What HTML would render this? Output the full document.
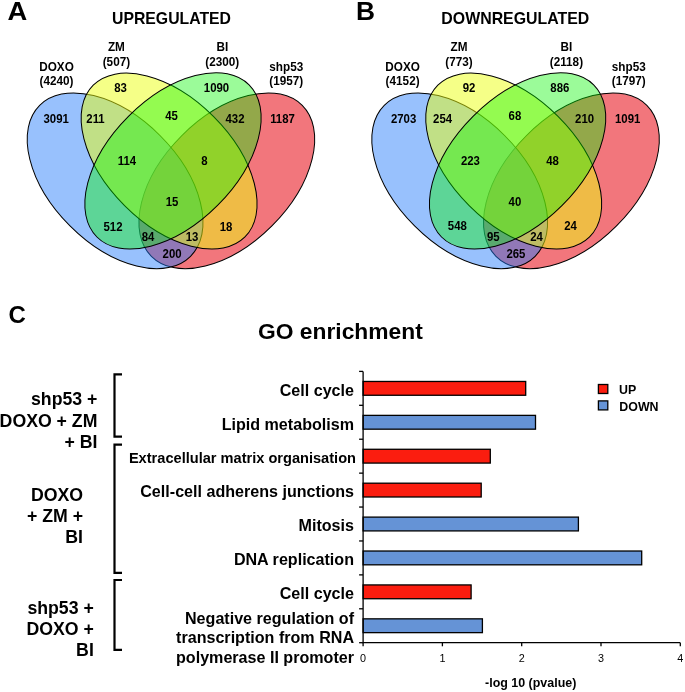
<!DOCTYPE html>
<html><head><meta charset="utf-8"><title>Figure</title>
<style>
html,body{margin:0;padding:0;background:#fff;}
svg{display:block;font-family:"Liberation Sans", sans-serif;fill:#000;}
</style></head>
<body>
<svg width="685" height="692" viewBox="0 0 685 692">
<rect width="685" height="692" fill="#fff"/>
<defs><filter id="idf" x="0" y="0" width="100%" height="100%" filterUnits="userSpaceOnUse" color-interpolation-filters="sRGB"><feOffset dx="0" dy="0"/></filter></defs>
<g filter="url(#idf)">
<ellipse cx="226.80" cy="180.85" rx="106.7" ry="63.8" transform="rotate(-45 226.80 180.85)" fill="#f2767c" fill-opacity="1.0" stroke="#000" stroke-width="1.0"/>
<ellipse cx="115.10" cy="180.85" rx="106.7" ry="63.8" transform="rotate(45 115.10 180.85)" fill="#247bfb" fill-opacity="0.47" stroke="#000" stroke-width="1.0"/>
<ellipse cx="169.10" cy="161.10" rx="107.3" ry="63.0" transform="rotate(45 169.10 161.10)" fill="#ebff0f" fill-opacity="0.5" stroke="#000" stroke-width="1.0"/>
<ellipse cx="173.00" cy="160.90" rx="107.6" ry="63.0" transform="rotate(-45 173.00 160.90)" fill="#05f500" fill-opacity="0.4" stroke="#000" stroke-width="1.0"/>
<ellipse cx="571.40" cy="180.85" rx="106.7" ry="63.8" transform="rotate(-45 571.40 180.85)" fill="#f2767c" fill-opacity="1.0" stroke="#000" stroke-width="1.0"/>
<ellipse cx="459.70" cy="180.85" rx="106.7" ry="63.8" transform="rotate(45 459.70 180.85)" fill="#247bfb" fill-opacity="0.47" stroke="#000" stroke-width="1.0"/>
<ellipse cx="513.70" cy="161.10" rx="107.3" ry="63.0" transform="rotate(45 513.70 161.10)" fill="#ebff0f" fill-opacity="0.5" stroke="#000" stroke-width="1.0"/>
<ellipse cx="517.60" cy="160.90" rx="107.6" ry="63.0" transform="rotate(-45 517.60 160.90)" fill="#05f500" fill-opacity="0.4" stroke="#000" stroke-width="1.0"/>
<text transform="translate(56.20 123.00) scale(0.92 1.0)" font-size="12.4" text-anchor="middle" font-weight="bold" >3091</text>
<text transform="translate(95.50 123.00) scale(0.92 1.0)" font-size="12.4" text-anchor="middle" font-weight="bold" >211</text>
<text transform="translate(120.50 91.90) scale(0.92 1.0)" font-size="12.4" text-anchor="middle" font-weight="bold" >83</text>
<text transform="translate(216.50 91.90) scale(0.92 1.0)" font-size="12.4" text-anchor="middle" font-weight="bold" >1090</text>
<text transform="translate(171.50 119.50) scale(0.92 1.0)" font-size="12.4" text-anchor="middle" font-weight="bold" >45</text>
<text transform="translate(235.00 123.00) scale(0.92 1.0)" font-size="12.4" text-anchor="middle" font-weight="bold" >432</text>
<text transform="translate(282.50 123.00) scale(0.92 1.0)" font-size="12.4" text-anchor="middle" font-weight="bold" >1187</text>
<text transform="translate(127.00 165.00) scale(0.92 1.0)" font-size="12.4" text-anchor="middle" font-weight="bold" >114</text>
<text transform="translate(204.50 165.00) scale(0.92 1.0)" font-size="12.4" text-anchor="middle" font-weight="bold" >8</text>
<text transform="translate(172.10 205.50) scale(0.92 1.0)" font-size="12.4" text-anchor="middle" font-weight="bold" >15</text>
<text transform="translate(113.00 230.50) scale(0.92 1.0)" font-size="12.4" text-anchor="middle" font-weight="bold" >512</text>
<text transform="translate(226.00 230.50) scale(0.92 1.0)" font-size="12.4" text-anchor="middle" font-weight="bold" >18</text>
<text transform="translate(148.00 241.00) scale(0.92 1.0)" font-size="12.4" text-anchor="middle" font-weight="bold" >84</text>
<text transform="translate(192.00 241.00) scale(0.92 1.0)" font-size="12.4" text-anchor="middle" font-weight="bold" >13</text>
<text transform="translate(172.10 257.80) scale(0.92 1.0)" font-size="12.4" text-anchor="middle" font-weight="bold" >200</text>
<text transform="translate(403.60 123.00) scale(0.92 1.0)" font-size="12.4" text-anchor="middle" font-weight="bold" >2703</text>
<text transform="translate(442.60 123.00) scale(0.92 1.0)" font-size="12.4" text-anchor="middle" font-weight="bold" >254</text>
<text transform="translate(469.00 91.70) scale(0.92 1.0)" font-size="12.4" text-anchor="middle" font-weight="bold" >92</text>
<text transform="translate(559.80 91.70) scale(0.92 1.0)" font-size="12.4" text-anchor="middle" font-weight="bold" >886</text>
<text transform="translate(514.90 119.50) scale(0.92 1.0)" font-size="12.4" text-anchor="middle" font-weight="bold" >68</text>
<text transform="translate(584.60 123.00) scale(0.92 1.0)" font-size="12.4" text-anchor="middle" font-weight="bold" >210</text>
<text transform="translate(627.70 123.00) scale(0.92 1.0)" font-size="12.4" text-anchor="middle" font-weight="bold" >1091</text>
<text transform="translate(470.40 165.00) scale(0.92 1.0)" font-size="12.4" text-anchor="middle" font-weight="bold" >223</text>
<text transform="translate(552.60 165.00) scale(0.92 1.0)" font-size="12.4" text-anchor="middle" font-weight="bold" >48</text>
<text transform="translate(514.90 205.50) scale(0.92 1.0)" font-size="12.4" text-anchor="middle" font-weight="bold" >40</text>
<text transform="translate(457.30 229.80) scale(0.92 1.0)" font-size="12.4" text-anchor="middle" font-weight="bold" >548</text>
<text transform="translate(570.60 229.80) scale(0.92 1.0)" font-size="12.4" text-anchor="middle" font-weight="bold" >24</text>
<text transform="translate(493.30 241.20) scale(0.92 1.0)" font-size="12.4" text-anchor="middle" font-weight="bold" >95</text>
<text transform="translate(536.60 241.20) scale(0.92 1.0)" font-size="12.4" text-anchor="middle" font-weight="bold" >24</text>
<text transform="translate(515.90 257.80) scale(0.92 1.0)" font-size="12.4" text-anchor="middle" font-weight="bold" >265</text>
<text transform="translate(56.50 71.10) scale(0.94 1.0)" font-size="12.5" text-anchor="middle" font-weight="bold" >DOXO</text>
<text transform="translate(56.50 85.40) scale(0.94 1.0)" font-size="12.5" text-anchor="middle" font-weight="bold" >(4240)</text>
<text transform="translate(116.40 51.10) scale(0.94 1.0)" font-size="12.5" text-anchor="middle" font-weight="bold" >ZM</text>
<text transform="translate(116.40 65.60) scale(0.94 1.0)" font-size="12.5" text-anchor="middle" font-weight="bold" >(507)</text>
<text transform="translate(222.30 51.10) scale(0.94 1.0)" font-size="12.5" text-anchor="middle" font-weight="bold" >BI</text>
<text transform="translate(222.30 65.60) scale(0.94 1.0)" font-size="12.5" text-anchor="middle" font-weight="bold" >(2300)</text>
<text transform="translate(286.30 70.70) scale(0.94 1.0)" font-size="12.5" text-anchor="middle" font-weight="bold" >shp53</text>
<text transform="translate(286.30 84.90) scale(0.94 1.0)" font-size="12.5" text-anchor="middle" font-weight="bold" >(1957)</text>
<text transform="translate(402.60 71.10) scale(0.94 1.0)" font-size="12.5" text-anchor="middle" font-weight="bold" >DOXO</text>
<text transform="translate(402.60 85.40) scale(0.94 1.0)" font-size="12.5" text-anchor="middle" font-weight="bold" >(4152)</text>
<text transform="translate(459.00 51.10) scale(0.94 1.0)" font-size="12.5" text-anchor="middle" font-weight="bold" >ZM</text>
<text transform="translate(459.00 65.60) scale(0.94 1.0)" font-size="12.5" text-anchor="middle" font-weight="bold" >(773)</text>
<text transform="translate(566.40 51.10) scale(0.94 1.0)" font-size="12.5" text-anchor="middle" font-weight="bold" >BI</text>
<text transform="translate(566.40 65.60) scale(0.94 1.0)" font-size="12.5" text-anchor="middle" font-weight="bold" >(2118)</text>
<text transform="translate(628.80 70.70) scale(0.94 1.0)" font-size="12.5" text-anchor="middle" font-weight="bold" >shp53</text>
<text transform="translate(628.80 84.90) scale(0.94 1.0)" font-size="12.5" text-anchor="middle" font-weight="bold" >(1797)</text>
<text transform="translate(7.40 19.60) scale(1.08 1.0)" font-size="25.3" text-anchor="start" font-weight="bold" >A</text>
<text transform="translate(356.00 19.60) scale(1.04 1.0)" font-size="25.3" text-anchor="start" font-weight="bold" >B</text>
<text x="8.50" y="323.20" font-size="24" text-anchor="start" font-weight="bold" >C</text>
<text transform="translate(171.50 24.10) scale(0.935 1.0)" font-size="16.9" text-anchor="middle" font-weight="bold" >UPREGULATED</text>
<text transform="translate(515.30 24.10) scale(0.94 1.0)" font-size="16.9" text-anchor="middle" font-weight="bold" >DOWNREGULATED</text>
<text x="340.40" y="339.20" font-size="22.8" text-anchor="middle" font-weight="bold" >GO enrichment</text>
<rect x="363.10" y="381.46" width="162.60" height="13.8" fill="#fb1d0f" stroke="#000" stroke-width="1.3"/>
<rect x="363.10" y="415.37" width="172.40" height="13.8" fill="#6593d6" stroke="#000" stroke-width="1.3"/>
<rect x="363.10" y="449.28" width="127.20" height="13.8" fill="#fb1d0f" stroke="#000" stroke-width="1.3"/>
<rect x="363.10" y="483.19" width="118.10" height="13.8" fill="#fb1d0f" stroke="#000" stroke-width="1.3"/>
<rect x="363.10" y="517.11" width="215.30" height="13.8" fill="#6593d6" stroke="#000" stroke-width="1.3"/>
<rect x="363.10" y="551.02" width="278.60" height="13.8" fill="#6593d6" stroke="#000" stroke-width="1.3"/>
<rect x="363.10" y="584.93" width="108.00" height="13.8" fill="#fb1d0f" stroke="#000" stroke-width="1.3"/>
<rect x="363.10" y="618.84" width="119.30" height="13.8" fill="#6593d6" stroke="#000" stroke-width="1.3"/>
<path d="M363.1 371.4 V642.7 H680.3" fill="none" stroke="#000" stroke-width="1.3"/>
<path d="M359.1 371.40 H363.1" stroke="#000" stroke-width="1.3"/>
<path d="M359.1 405.31 H363.1" stroke="#000" stroke-width="1.3"/>
<path d="M359.1 439.23 H363.1" stroke="#000" stroke-width="1.3"/>
<path d="M359.1 473.14 H363.1" stroke="#000" stroke-width="1.3"/>
<path d="M359.1 507.05 H363.1" stroke="#000" stroke-width="1.3"/>
<path d="M359.1 540.96 H363.1" stroke="#000" stroke-width="1.3"/>
<path d="M359.1 574.88 H363.1" stroke="#000" stroke-width="1.3"/>
<path d="M359.1 608.79 H363.1" stroke="#000" stroke-width="1.3"/>
<path d="M359.1 642.70 H363.1" stroke="#000" stroke-width="1.3"/>
<path d="M363.10 642.7 V646.3000000000001" stroke="#000" stroke-width="1.3"/>
<text x="363.10" y="662.00" font-size="10.8" text-anchor="middle" font-weight="normal" >0</text>
<path d="M442.40 642.7 V646.3000000000001" stroke="#000" stroke-width="1.3"/>
<text x="442.40" y="662.00" font-size="10.8" text-anchor="middle" font-weight="normal" >1</text>
<path d="M521.70 642.7 V646.3000000000001" stroke="#000" stroke-width="1.3"/>
<text x="521.70" y="662.00" font-size="10.8" text-anchor="middle" font-weight="normal" >2</text>
<path d="M601.00 642.7 V646.3000000000001" stroke="#000" stroke-width="1.3"/>
<text x="601.00" y="662.00" font-size="10.8" text-anchor="middle" font-weight="normal" >3</text>
<path d="M680.30 642.7 V646.3000000000001" stroke="#000" stroke-width="1.3"/>
<text x="680.30" y="662.00" font-size="10.8" text-anchor="middle" font-weight="normal" >4</text>
<text x="530.70" y="687.10" font-size="12.45" text-anchor="middle" font-weight="bold" >-log 10 (pvalue)</text>
<rect x="598.4" y="384.5" width="9.4" height="9.0" fill="#fb1d0f" stroke="#000" stroke-width="1.3"/>
<rect x="598.4" y="400.9" width="9.4" height="9.0" fill="#6593d6" stroke="#000" stroke-width="1.3"/>
<text x="619.00" y="393.90" font-size="12.4" text-anchor="start" font-weight="bold" >UP</text>
<text x="619.30" y="411.00" font-size="12.4" text-anchor="start" font-weight="bold" >DOWN</text>
<text x="354.00" y="395.50" font-size="16.1" text-anchor="end" font-weight="bold" >Cell cycle</text>
<text x="354.00" y="429.70" font-size="16.1" text-anchor="end" font-weight="bold" >Lipid metabolism</text>
<text x="356.00" y="463.30" font-size="14.6" text-anchor="end" font-weight="bold" >Extracellular matrix organisation</text>
<text x="354.00" y="497.00" font-size="16.1" text-anchor="end" font-weight="bold" >Cell-cell adherens junctions</text>
<text x="354.00" y="531.10" font-size="16.1" text-anchor="end" font-weight="bold" >Mitosis</text>
<text x="354.00" y="565.40" font-size="16.1" text-anchor="end" font-weight="bold" >DNA replication</text>
<text x="354.00" y="598.70" font-size="16.1" text-anchor="end" font-weight="bold" >Cell cycle</text>
<text x="354.00" y="624.10" font-size="16.1" text-anchor="end" font-weight="bold" >Negative regulation of</text>
<text x="354.00" y="643.30" font-size="16.1" text-anchor="end" font-weight="bold" >transcription from RNA</text>
<text x="354.00" y="662.60" font-size="16.1" text-anchor="end" font-weight="bold" >polymerase II promoter</text>
<text x="97.40" y="405.00" font-size="17.7" text-anchor="end" font-weight="bold" >shp53 +</text>
<text x="97.40" y="426.50" font-size="17.7" text-anchor="end" font-weight="bold" >DOXO + ZM</text>
<text x="97.40" y="447.80" font-size="17.7" text-anchor="end" font-weight="bold" >+ BI</text>
<text x="83.00" y="500.90" font-size="17.7" text-anchor="end" font-weight="bold" >DOXO</text>
<text x="83.00" y="522.20" font-size="17.7" text-anchor="end" font-weight="bold" >+ ZM +</text>
<text x="83.00" y="543.20" font-size="17.7" text-anchor="end" font-weight="bold" >BI</text>
<text x="93.80" y="613.50" font-size="17.7" text-anchor="end" font-weight="bold" >shp53 +</text>
<text x="93.80" y="634.60" font-size="17.7" text-anchor="end" font-weight="bold" >DOXO +</text>
<text x="93.80" y="655.60" font-size="17.7" text-anchor="end" font-weight="bold" >BI</text>
<path d="M122 374.4 H114.5 V436.6 H122" fill="none" stroke="#000" stroke-width="2.2"/>
<path d="M122 444.6 H114.5 V572.8 H122" fill="none" stroke="#000" stroke-width="2.2"/>
<path d="M122 580.0 H114.5 V649.9 H122" fill="none" stroke="#000" stroke-width="2.2"/>
</g>
</svg>
</body></html>
